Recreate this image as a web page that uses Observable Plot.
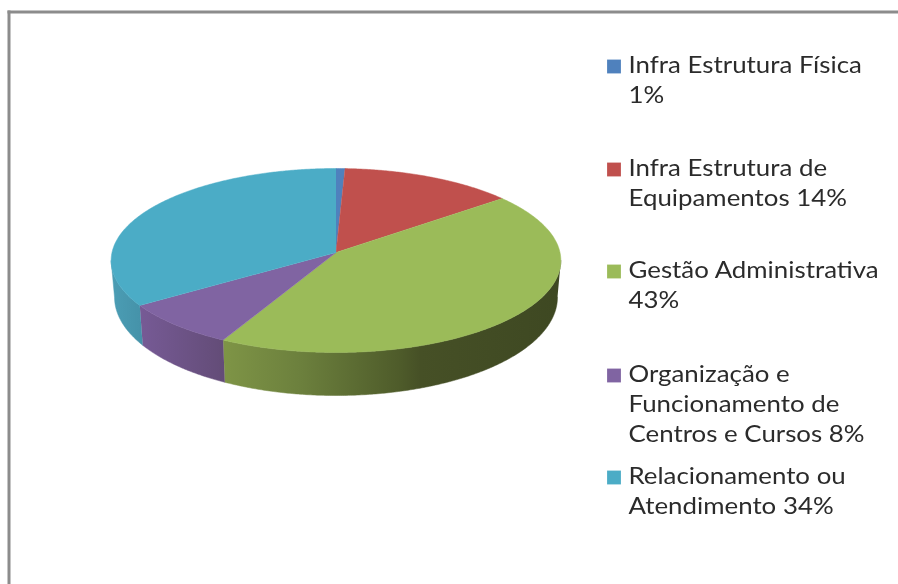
<!DOCTYPE html>
<html><head><meta charset="utf-8">
<script src="https://cdn.jsdelivr.net/npm/d3@7"></script>
<script src="https://cdn.jsdelivr.net/npm/@observablehq/plot@0.6"></script>
<style>html,body{margin:0;padding:0;background:#fff}svg{display:block}</style>
</head><body><div id="chart"></div>
<script>
// Data
const names = ["Infra Estrutura Física","Infra Estrutura de Equipamentos","Gestão Administrativa","Organização e Funcionamento de Centros e Cursos","Relacionamento ou Atendimento"];
const values = [0.7,13.6,43.4,8.0,34.3];
const legendLines = [["Infra Estrutura Física"],["Infra Estrutura de","Equipamentos"],["Gestão Administrativa"],["Organização e","Funcionamento de","Centros e Cursos"],["Relacionamento ou","Atendimento"]];
const breakBeforePercent = [true,false,true,false,false];
const colors = ["#4F81BD","#C0504D","#9BBB59","#8064A2","#4BACC6"];

// Style and layout
const legendTop = [43,146,248,352,454];
const persp = 0.087;
const wallFrom = 95, wallTo = 265;
const wallStops = {
  2:[[224,"#7e9446"],[300,"#6c803d"],[400,"#4e5b2a"],[420,"#465026"],[561,"#3e4822"]],
  3:[[141,"#765a95"],[224,"#634c77"]],
  4:[[112,"#4b9db4"],[141,"#4592a9"]]
};
const rad = Math.PI/180;
const top3d = a => {const u=Math.sin(a*rad),v=Math.cos(a*rad),w=1+persp*v;return {x:u/w,y:v/w};};
const low3d = a => {const p=top3d(a),v=Math.cos(a*rad);return {x:p.x*0.985,y:p.y-(36-7*v)/91.3};};
const arcs = d3.pairs(d3.cumsum([0,...values]).map(c=>c*3.6));
const range = (a0,a1) => d3.range(a0,a1,0.5).concat(a1);

const topFace = arcs.map(([a0,a1]) => [{x:0,y:0},...range(a0,a1).map(top3d)]);
const wallFace = arcs.map(([a0,a1]) => {
  const s=Math.max(a0,wallFrom), e=Math.min(a1,wallTo);
  if (s>=e) return null;
  return [...range(s,e).map(top3d),...range(s,e).reverse().map(low3d)];
});

const defs = () => {
  const d = d3.create("svg:defs");
  Object.entries(wallStops).forEach(([i,stops])=>{
    const x0=stops[0][0],x1=stops[stops.length-1][0];
    const g=d.append("linearGradient").attr("id","wall"+i).attr("gradientUnits","userSpaceOnUse")
      .attr("x1",x0).attr("x2",x1).attr("y1",0).attr("y2",0);
    stops.forEach(([x,c])=>g.append("stop").attr("offset",(x-x0)/(x1-x0)).attr("stop-color",c));
  });
  return d.node();
};
// The reference's legend type is drawn wide: widen each text horizontally.
const widen = (index,scales,values,dims,context,next) => {
  const g = next(index,scales,values,dims,context);
  d3.select(g).selectAll("text").attr("transform",function(){return (this.getAttribute("transform")||"")+" scale(1.125,1)";});
  return g;
};

const chart = Plot.plot({
  width:898,height:584,
  marginLeft:8.5,marginTop:11.5,marginRight:0,marginBottom:0,
  x:{domain:[-1,1],range:[111.5,559.5],axis:null},
  y:{domain:[1,-1],range:[160.7,343.3],axis:null},
  style:{fontFamily:"Lato, sans-serif",background:"#fff",filter:"blur(0.5px)"},
  marks:[
    defs,
    Plot.frame({anchor:"top",stroke:"#8c8c8c",strokeWidth:3}),
    Plot.frame({anchor:"left",stroke:"#8c8c8c",strokeWidth:3}),
    ...wallFace.flatMap((w,i)=>w?[Plot.line(w,{x:"x",y:"y",fill:`url(#wall${i})`,stroke:`url(#wall${i})`,strokeWidth:0.5})]:[]),
    ...topFace.map((w,i)=>Plot.line(w,{x:"x",y:"y",fill:colors[i],stroke:colors[i],strokeWidth:0.5})),
    ...names.flatMap((n,i)=>{
      const pct=Math.round(values[i])+"%";
      const ls=legendLines[i].slice();
      if (breakBeforePercent[i]) ls.push(pct); else ls[ls.length-1]+=" "+pct;
      return [
        Plot.dot([n],{frameAnchor:"top-left",dx:605,dy:legendTop[i]+11.5,symbol:"square",r:7.8,fill:colors[i],stroke:null}),
        Plot.text([ls.join("\n")],{text:d=>d,frameAnchor:"top-left",lineAnchor:"top",textAnchor:"start",dx:619.5,dy:legendTop[i]-3.5,fontSize:23,lineHeight:1.3,fill:"#2b2b2b",letterSpacing:"0.7px",render:widen})
      ];
    })
  ]
});
document.getElementById("chart").append(chart);
</script></body></html>
